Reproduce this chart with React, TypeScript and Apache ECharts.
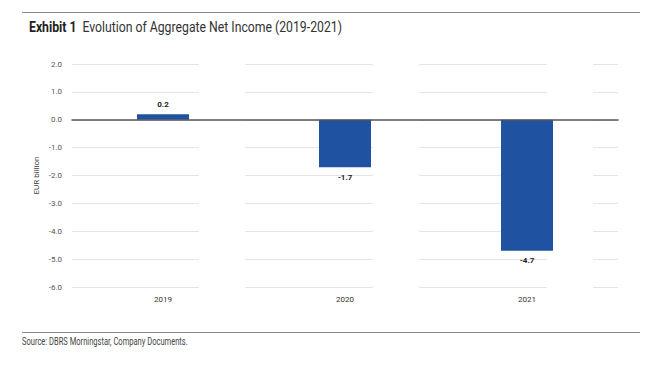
import React, { useEffect, useRef } from "react";
import * as echarts from "echarts";

const categories = ["2019", "2020", "2021"];
const netIncome = [0.2, -1.7, -4.7];
const yTicks = [2, 1, 0, -1, -2, -3, -4, -5, -6];

const FONT = "Roboto, 'Liberation Sans', sans-serif";

export default function App() {
  const ref = useRef<HTMLDivElement>(null);
  useEffect(() => {
    if (!ref.current) return;
    const chart = echarts.init(ref.current, undefined, { renderer: "svg" });
    const gapRects = [199, 373, 547].map((x) => ({
      type: "rect",
      z: 1,
      shape: { x, y: 58, width: 46, height: 235 },
      style: { fill: "#ffffff" },
      silent: true,
    }));
    chart.setOption({
      animation: false,
      backgroundColor: "#ffffff",
      graphic: [
        {
          type: "line",
          shape: { x1: 22, y1: 12.5, x2: 640, y2: 12.5 },
          style: { stroke: "#8a8a8a", lineWidth: 1 },
          silent: true,
        },
        {
          type: "text",
          x: 29,
          y: 20,
          scaleX: 0.875,
          style: {
            text: "{b|Exhibit 1}  {r|Evolution of Aggregate Net Income (2019-2021)}",
            verticalAlign: "top",
            rich: {
              b: { fontFamily: FONT, fontSize: 14, fontWeight: "bold", fill: "#222" },
              r: { fontFamily: FONT, fontSize: 14, fill: "#333" },
            },
          },
          silent: true,
        },
        {
          type: "line",
          shape: { x1: 22, y1: 332.5, x2: 640, y2: 332.5 },
          style: { stroke: "#8a8a8a", lineWidth: 1 },
          silent: true,
        },
        {
          type: "text",
          x: 22,
          y: 336,
          scaleX: 0.72,
          style: {
            text: "Source: DBRS Morningstar, Company Documents.",
            fontFamily: FONT,
            fontSize: 10.5,
            fill: "#444",
            verticalAlign: "top",
          },
          silent: true,
        },
        ...gapRects,
      ],
      grid: { left: 72, right: 38, top: 64, bottom: 100, containLabel: false },
      xAxis: {
        type: "category",
        data: categories,
        z: 3,
        axisLine: { show: true, onZero: true, lineStyle: { color: "#555", width: 1.5 } },
        axisTick: { show: false },
        axisLabel: {
          fontFamily: FONT,
          fontSize: 8,
          color: "#333",
        },
        position: "bottom",
        splitLine: { show: false },
      },
      yAxis: {
        type: "value",
        min: -6,
        max: 2,
        interval: 1,
        name: "EUR billion",
        nameLocation: "middle",
        nameGap: 32,
        nameMoveOverlap: false,
        nameRotate: 90,
        nameTextStyle: { fontFamily: FONT, fontSize: 8, color: "#444" },
        axisLine: { show: false },
        axisTick: { show: false },
        axisLabel: {
          fontFamily: FONT,
          fontSize: 8,
          color: "#555",
          margin: 10,
          formatter: (v: number) => (yTicks.includes(v) ? v.toFixed(1) : ""),
        },
        splitLine: { show: true, lineStyle: { color: "#e4e4e4", width: 1 } },
      },
      series: [
        {
          type: "bar",
          data: netIncome,
          barWidth: 52,
          z: 2,
          itemStyle: { color: "#1f52a0" },
          label: {
            show: true,
            position: "outside",
            distance: 6,
            fontFamily: FONT,
            fontSize: 8,
            fontWeight: "bold",
            color: "#222",
            formatter: (p: any) => Number(p.value).toFixed(1),
          },
        },
      ],
    });
    return () => chart.dispose();
  }, []);
  return (
    <div
      ref={ref}
      style={{ position: "absolute", left: 0, top: 0, width: 656, height: 387 }}
    />
  );
}
